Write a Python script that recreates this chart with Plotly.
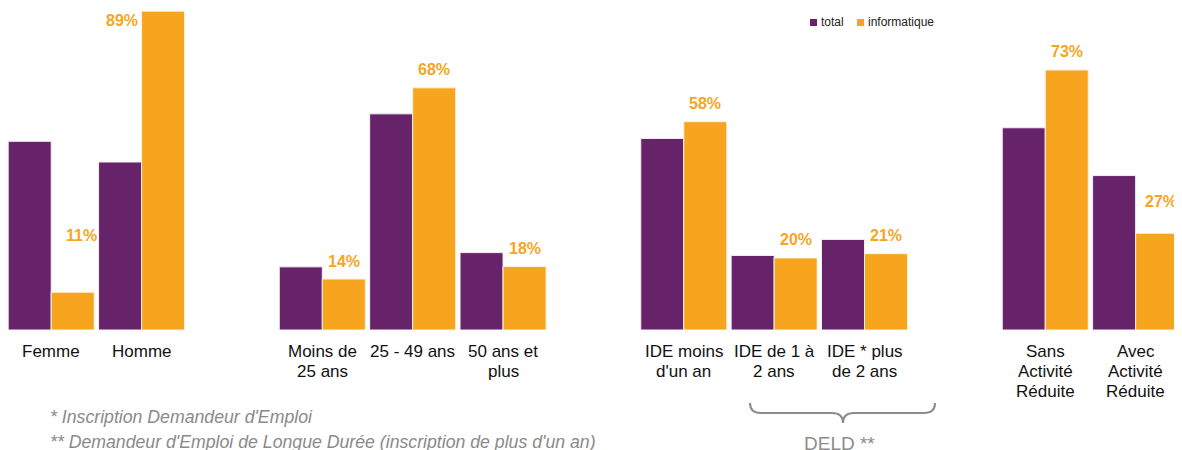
import plotly.graph_objects as go

# ---- data ----
categories = ["Femme", "Homme",
              "Moins de<br>25 ans", "25 - 49 ans", "50 ans et<br>plus",
              "IDE moins<br>d'un an", "IDE de 1 à<br>2 ans", "IDE * plus<br>de 2 ans",
              "Sans<br>Activité<br>Réduite", "Avec<br>Activité<br>Réduite"]
total = [52.9, 47.1, 17.7, 60.6, 21.7, 53.7, 20.9, 25.4, 56.7, 43.3]
informatique = [10.6, 89.4, 14.3, 67.9, 17.8, 58.4, 20.2, 21.4, 72.9, 27.1]
gap_slots = [" ", "  ", "   "]
# axis order: groups separated by empty slots
category_order = ["Femme", "Homme", " ",
                  "Moins de<br>25 ans", "25 - 49 ans", "50 ans et<br>plus", "  ",
                  "IDE moins<br>d'un an", "IDE de 1 à<br>2 ans", "IDE * plus<br>de 2 ans", "   ",
                  "Sans<br>Activité<br>Réduite", "Avec<br>Activité<br>Réduite"]
footnotes = ["* Inscription Demandeur d'Emploi",
             "** Demandeur d'Emploi de Longue Durée (inscription de plus d'un an)"]
brace_label = "DELD **"

PURPLE = "#66236a"
ORANGE = "#f7a51e"
GREY = "#8a8a8a"
FONT = "Liberation Sans, Arial, sans-serif"

OFF = 8  # page body margin
W, H = 1174, 442
ML, MR, MT, MB = 0, 1, 1, 120
PW, PH = W - ML - MR, H - MT - MB


def pxx(x):
    return (x - OFF - ML) / PW


def pxy(y):
    return (H - MB - (y - OFF)) / PH


x_all = categories + gap_slots
fig = go.Figure()
fig.add_trace(go.Bar(x=x_all, y=total + [None] * 3, name="total",
                     marker=dict(color=PURPLE, line=dict(color="#f4eef4", width=1)),
                     showlegend=False, hoverinfo="skip"))
fig.add_trace(go.Bar(x=x_all, y=informatique + [None] * 3, name="informatique",
                     marker=dict(color=ORANGE, line=dict(color="#fdf1e0", width=1)),
                     showlegend=False, hoverinfo="skip"))

# value labels for informatique (offsets in px; a few were moved in the original)
label_offsets = {0: (9, 57), 1: (-41, -9), 9: (4, 32)}
annotations = []
for i, (c, v) in enumerate(zip(categories, informatique)):
    dx, dy = label_offsets.get(i, (0, 18))
    annotations.append(dict(x=c, y=v, xref="x", yref="y", text=f"<b>{round(v)}%</b>",
                            showarrow=False, xshift=21.5 + dx, yshift=dy,
                            yanchor="middle", xanchor="center",
                            font=dict(family=FONT, size=16, color=ORANGE)))

# category labels (one text per line for a tighter line spacing)
for c in categories:
    for k, line in enumerate(c.split("<br>")):
        annotations.append(dict(x=c, y=0, xref="x", yref="y", text=line,
                                showarrow=False, yshift=-(21 + 20 * k),
                                xanchor="center", yanchor="middle",
                                font=dict(family=FONT, size=17, color="#111111")))

# legend (custom, compact)
shapes = []
leg = [("total", PURPLE, 810, 819), ("informatique", ORANGE, 857, 866)]
for name, col, sx, tx in leg:
    shapes.append(dict(type="rect", xref="paper", yref="paper",
                       x0=pxx(sx), x1=pxx(sx + 7), y0=pxy(19), y1=pxy(26),
                       fillcolor=col, line=dict(width=0)))
    annotations.append(dict(x=pxx(tx), y=pxy(22.5), xref="paper", yref="paper",
                            text=name, showarrow=False, xanchor="left", yanchor="middle",
                            font=dict(family=FONT, size=12, color="#222222")))

# footnotes
for txt, yy in zip(footnotes, [417, 442]):
    annotations.append(dict(x=pxx(48), y=pxy(yy), xref="paper", yref="paper",
                            text=f"<i>{txt}</i>", showarrow=False,
                            xanchor="left", yanchor="middle",
                            font=dict(family=FONT, size=17.7, color=GREY)))

# brace under DELD categories
pts = [(750, 403), (750, 413), (761, 413), (832, 413), (843, 413), (843, 423),
       (843, 413), (854, 413), (924, 413), (935, 413), (935, 403)]
p = [(pxx(a), pxy(b)) for a, b in pts]
path = (f"M {p[0][0]},{p[0][1]} Q {p[1][0]},{p[1][1]} {p[2][0]},{p[2][1]} "
        f"L {p[3][0]},{p[3][1]} Q {p[4][0]},{p[4][1]} {p[5][0]},{p[5][1]} "
        f"Q {p[6][0]},{p[6][1]} {p[7][0]},{p[7][1]} L {p[8][0]},{p[8][1]} "
        f"Q {p[9][0]},{p[9][1]} {p[10][0]},{p[10][1]}")
shapes.append(dict(type="path", xref="paper", yref="paper", path=path,
                   line=dict(color="#8c8c8c", width=2)))
annotations.append(dict(x=pxx(839), y=pxy(443), xref="paper", yref="paper",
                        text=brace_label, showarrow=False, xanchor="center", yanchor="middle",
                        font=dict(family=FONT, size=19, color="#8c8c8c")))

fig.update_layout(
    width=W, height=H,
    margin=dict(l=ML, r=MR, t=MT, b=MB),
    barmode="group", bargap=0.048, bargroupgap=0,
    plot_bgcolor="white", paper_bgcolor="white",
    showlegend=False,
    xaxis=dict(type="category", categoryorder="array", categoryarray=category_order,
               range=[-0.478, 12.502], showticklabels=False,
               showgrid=False, zeroline=False, showline=False, ticks=""),
    yaxis=dict(range=[0, 90], visible=False, showgrid=False, zeroline=False),
    annotations=annotations, shapes=shapes,
)

fig.write_html("out.html")
